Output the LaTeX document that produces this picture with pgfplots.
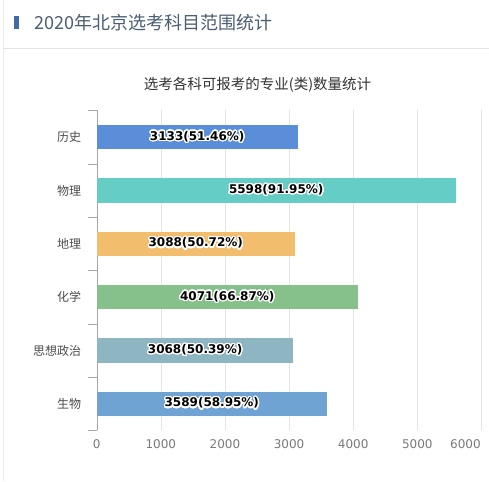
\documentclass[border=0pt]{standalone}
\usepackage{pgfplots}
\pgfplotsset{compat=1.18}
\usepackage{fontspec}
\usepackage{contour}
\setmainfont{Noto Sans CJK SC}
\newfontfamily\dejavu{DejaVu Sans}
\contourlength{1.3pt}
\contournumber{32}

\definecolor{cHist}{HTML}{5B8ED8}
\definecolor{cPhys}{HTML}{66CDC6}
\definecolor{cGeo}{HTML}{F2BD6C}
\definecolor{cChem}{HTML}{86C08A}
\definecolor{cPol}{HTML}{8DB5C2}
\definecolor{cBio}{HTML}{6FA3D3}
\definecolor{headblue}{HTML}{3D6AA8}
\definecolor{headtext}{HTML}{4B5E72}
\definecolor{gridc}{HTML}{E3E3E3}
\definecolor{ticktext}{HTML}{7A7A7A}

\newcommand{\barlabel}[1]{{\dejavu\bfseries\fontsize{12}{13}\selectfont\contour{white}{#1}}}

\begin{document}
\begin{tikzpicture}
\fill[white] (0pt,0pt) rectangle (489pt,481pt);
% header
\draw[color=gridc!70] (3pt,0pt) -- (3pt,481pt);
\draw[color=gridc] (3pt,433pt) -- (489pt,433pt);
\fill[headblue] (14pt,452pt) rectangle (19pt,465pt);
\node[anchor=west,inner sep=0pt,text=headtext,font=\fontsize{18}{20}\selectfont] at (34pt,458.5pt) {2020年北京选考科目范围统计};
\node[anchor=center,inner sep=0pt,text=black!80,font=\fontsize{14.5}{16}\selectfont] at (257.5pt,396pt) {选考各科可报考的专业(类)数量统计};

\begin{axis}[
    at={(96.7pt,50.5pt)}, anchor=south west,
    scale only axis,
    width=384.8pt, height=320pt,
    xbar, bar width=24.5pt, bar shift=0pt,
    xmin=0, xmax=6000,
    ymin=-0.5, ymax=5.5,
    axis y line*=left, axis x line*=bottom,
    x axis line style={draw=none},
    y axis line style={color=black!35},
    xtick={0,1000,...,5000},
    extra x ticks={6000},
    extra x tick style={grid=major, xticklabel style={xshift=-16pt}},
    ytick={0,1,2,3,4,5},
    yticklabels={生物,思想政治,化学,地理,物理,历史},
    minor ytick={-0.5,0.5,...,5.5},
    major tick length=0pt,
    minor tick length=9pt,
    tick align=outside,
    minor tick style={color=black!35},
    xmajorgrids, major grid style={color=gridc},
    xticklabel style={font=\dejavu\fontsize{12}{13}\selectfont, text=ticktext},
    yticklabel style={font=\fontsize{12}{14}\selectfont, text=black!70},
    /pgf/number format/assume math mode=true,
    /pgf/number format/1000 sep={},
    xticklabel shift=6pt,
    yticklabel shift=12pt,
    clip=false,
]
\addplot[fill=cHist, draw=none] coordinates {(3133,5)};
\addplot[fill=cPhys, draw=none] coordinates {(5598,4)};
\addplot[fill=cGeo, draw=none] coordinates {(3088,3)};
\addplot[fill=cChem, draw=none] coordinates {(4071,2)};
\addplot[fill=cPol, draw=none] coordinates {(3068,1)};
\addplot[fill=cBio, draw=none] coordinates {(3589,0)};

\node at (axis cs:1566.5,5) {\barlabel{3133(51.46\%)}};
\node at (axis cs:2799,4) {\barlabel{5598(91.95\%)}};
\node at (axis cs:1544,3) {\barlabel{3088(50.72\%)}};
\node at (axis cs:2035.5,2) {\barlabel{4071(66.87\%)}};
\node at (axis cs:1534,1) {\barlabel{3068(50.39\%)}};
\node at (axis cs:1794.5,0) {\barlabel{3589(58.95\%)}};
\end{axis}
\pgfresetboundingbox
\useasboundingbox (0pt,0pt) rectangle (489pt,481pt);
\end{tikzpicture}
\end{document}
